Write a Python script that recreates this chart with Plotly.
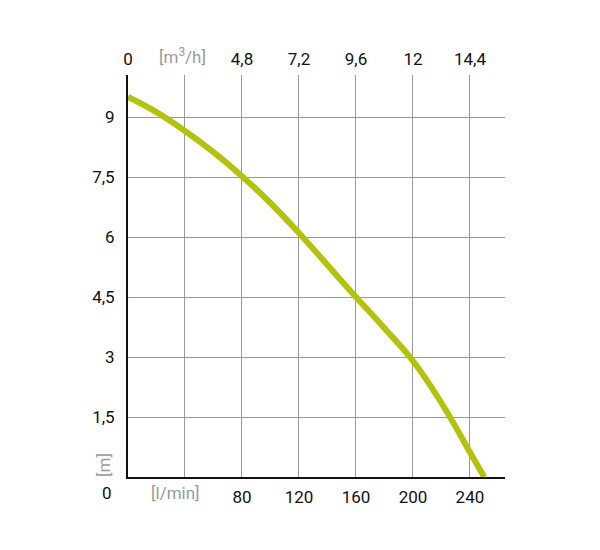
import plotly.graph_objects as go

# Pump curve data (flow in l/min, head in m)
flow_lpm = [0, 20, 40, 60, 80, 100, 120, 140, 160, 180, 200, 220, 240, 250]
head_m = [9.5, 9.12, 8.65, 8.12, 7.52, 6.85, 6.1, 5.3, 4.5, 3.72, 2.9, 1.85, 0.62, 0.0]

# Axis ticks
x_ticks = [80, 120, 160, 200, 240]
x_ticktext = ["80", "120", "160", "200", "240"]
x_minor_grid = [40]
top_ticks = [0, 4.8, 7.2, 9.6, 12, 14.4]
top_ticktext = ["0", "4,8", "7,2", "9,6", "12", "14,4"]
y_ticks = [1.5, 3, 4.5, 6, 7.5, 9]
y_ticktext = ["1,5", "3", "4,5", "6", "7,5", "9"]

X_MAX = 264.6
Y_MAX = 10.05
FONT = "Roboto"
GRID = "#9a9a9a"
GREEN = "#b3c30a"
TXT = "#111111"

fig = go.Figure()
fig.add_trace(go.Scatter(
    x=flow_lpm, y=head_m, mode="lines",
    line=dict(color=GREEN, width=6, shape="spline", smoothing=1.3),
    hoverinfo="skip", showlegend=False,
))
# invisible trace to activate top axis
fig.add_trace(go.Scatter(
    x=[0, X_MAX * 0.06], y=[0, 0], xaxis="x2", mode="markers",
    marker=dict(opacity=0), hoverinfo="skip", showlegend=False,
))

fig.update_layout(
    width=600, height=550,
    margin=dict(l=120, r=103, t=67, b=81),
    paper_bgcolor="white", plot_bgcolor="white",
    font=dict(family=FONT, size=17, color=TXT),
    xaxis=dict(
        range=[0, X_MAX], tickvals=x_ticks, ticktext=x_ticktext,
        showgrid=True, gridcolor=GRID, gridwidth=1,
        minor=dict(tickvals=x_minor_grid, showgrid=True, gridcolor=GRID, gridwidth=1, ticks=""),
        showline=True, linecolor="#111", linewidth=2,
        zeroline=False, ticks="", ticklabelstandoff=4,
    ),
    xaxis2=dict(
        range=[0, X_MAX * 0.06], overlaying="x", side="top",
        tickvals=top_ticks, ticktext=top_ticktext,
        showgrid=False, showline=False, zeroline=False, ticks="",
        ticklabelstandoff=6,
    ),
    yaxis=dict(
        range=[0, Y_MAX], tickvals=y_ticks, ticktext=y_ticktext,
        showgrid=True, gridcolor=GRID, gridwidth=1,
        showline=True, linecolor="#111", linewidth=2,
        zeroline=False, ticks="", ticklabelstandoff=8,
    ),
    annotations=[
        dict(text="0", xref="x", yref="y", x=0, y=0, xanchor="right", yanchor="top",
             xshift=-14, yshift=-4, showarrow=False, font=dict(size=17, color=TXT)),
        dict(text="[l/min]", xref="x", yref="y", x=33, y=0, xanchor="center", yanchor="top",
             yshift=-4, showarrow=False, font=dict(size=17, color="#9a9a9a")),
        dict(text="[m<sup>3</sup>/h]", xref="x", yref="paper", x=38, y=1, xanchor="center",
             yanchor="bottom", yshift=6, showarrow=False, font=dict(size=17, color="#9a9a9a")),
        dict(text="[m]", xref="x", yref="y", x=0, y=0.3, xanchor="right", yanchor="middle",
             xshift=-12, textangle=-90, showarrow=False, font=dict(size=17, color="#9a9a9a")),
    ],
)

fig.write_html("out.html")
